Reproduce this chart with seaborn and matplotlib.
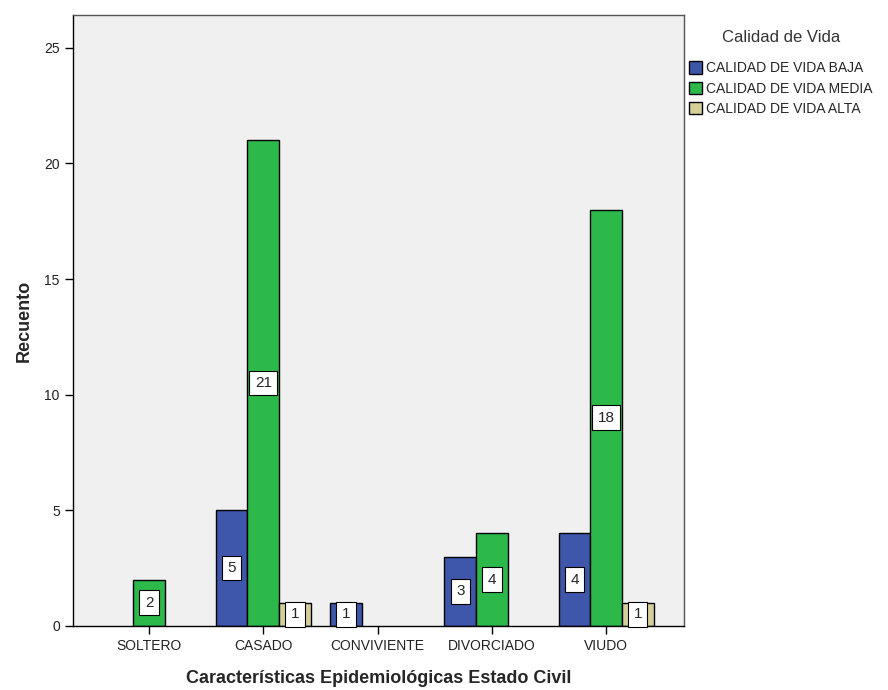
import matplotlib
matplotlib.use("Agg")
import matplotlib.pyplot as plt
import seaborn as sns
import pandas as pd

# datos
estado_civil = ["SOLTERO", "CASADO", "CONVIVIENTE", "DIVORCIADO", "VIUDO"]
niveles = ["CALIDAD DE VIDA BAJA", "CALIDAD DE VIDA MEDIA", "CALIDAD DE VIDA ALTA"]
baja = [0, 5, 1, 3, 4]
media = [2, 21, 0, 4, 18]
alta = [0, 1, 0, 0, 1]
colores = ["#3E57AA", "#2DB84A", "#D4CF98"]

rows = []
for nivel, vals in zip(niveles, [baja, media, alta]):
    for cat, v in zip(estado_civil, vals):
        rows.append({"estado": cat, "calidad": nivel, "n": v})
df = pd.DataFrame(rows)

sns.set_style("white")
plt.rcParams["font.family"] = ["Liberation Sans", "DejaVu Sans"]

fig = plt.figure(figsize=(8.88, 6.9), dpi=100)
ax = fig.add_axes([0.0822, 0.0928, 0.688, 0.885])
ax.set_facecolor("#F0F0F0")

sns.barplot(data=df, x="estado", y="n", hue="calidad", order=estado_civil,
            hue_order=niveles, palette=colores, width=0.83, edgecolor="black",
            linewidth=1.0, saturation=1, errorbar=None, ax=ax)

# etiquetas en cajas blancas al centro de cada barra
for cont in ax.containers:
    for bar in cont:
        h = bar.get_height()
        if h > 0:
            ax.text(bar.get_x() + bar.get_width() / 2, h / 2, f"{int(h)}",
                    ha="center", va="center", fontsize=11,
                    bbox=dict(boxstyle="square,pad=0.35", fc="white", ec="black", lw=0.8),
                    zorder=5)
        else:
            bar.set_visible(False)

ax.set_xlim(-0.665, 4.68)
ax.set_ylim(0, 26.4)
ax.set_yticks([0, 5, 10, 15, 20, 25])
ax.tick_params(axis="both", direction="out", length=6, width=1, colors="black",
               labelsize=10, bottom=True, left=True)
for lab in ax.get_xticklabels() + ax.get_yticklabels():
    lab.set_color("#222222")
for s in ax.spines.values():
    s.set_color("#555555")
    s.set_linewidth(1.0)
ax.spines["left"].set_color("black")
ax.spines["bottom"].set_color("black")

ax.set_ylabel("Recuento", fontsize=13, fontweight="bold", labelpad=8)
ax.set_xlabel("Características Epidemiológicas Estado Civil", fontsize=13,
              fontweight="bold", labelpad=12)

handles, labels = ax.get_legend_handles_labels()
ax.legend(handles, labels, title="Calidad de Vida", loc="upper left",
          bbox_to_anchor=(0.770, 0.965), bbox_transform=fig.transFigure,
          frameon=False, fontsize=10, title_fontsize=12, handlelength=0.9,
          handleheight=1.0, handletextpad=0.3, labelspacing=0.45, borderaxespad=0)
ax.get_legend().get_title().set_color("#333333")
ax.get_legend()._legend_box.sep = 12

fig.savefig("out.png", dpi=100)
